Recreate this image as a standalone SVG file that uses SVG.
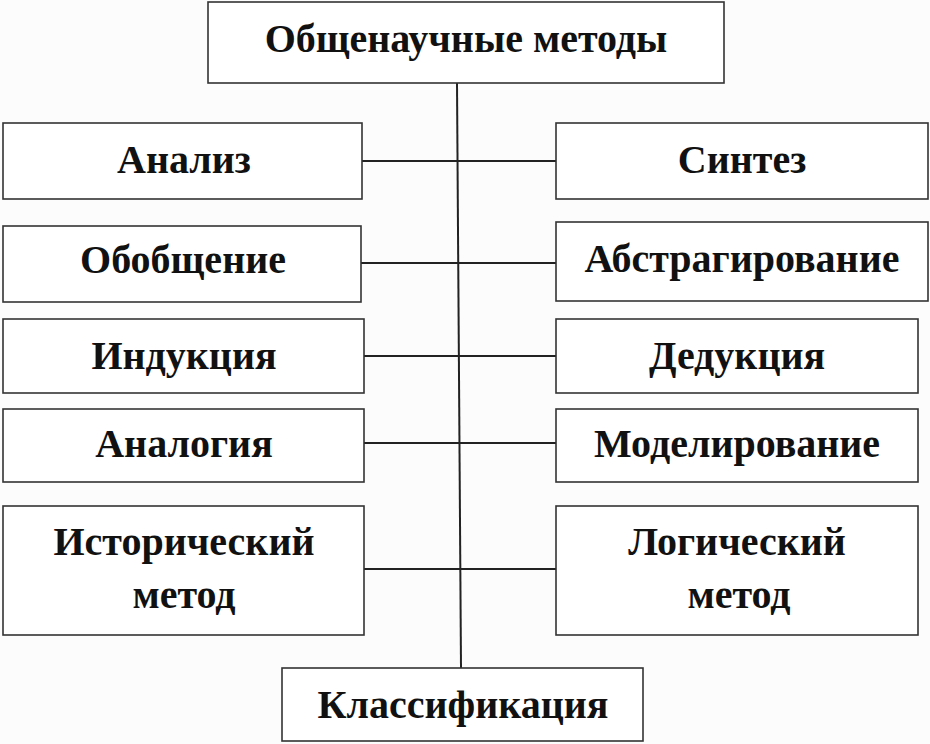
<svg xmlns="http://www.w3.org/2000/svg" width="930" height="744" viewBox="0 0 930 744">
<style>
.box{fill:#ffffff;stroke:#333333;stroke-width:1.6}
.t{font-family:"Liberation Serif","Times New Roman",serif;font-weight:bold;font-size:40px;fill:#111111;text-anchor:middle}
.c{stroke:#222222;stroke-width:2;fill:none}
</style>
<rect width="930" height="744" fill="#fcfcfc"/>
<g id="connectors">
<line class="c" x1="457" y1="83" x2="461" y2="668"/>
<line class="c" x1="362" y1="161" x2="556" y2="161"/>
<line class="c" x1="361" y1="263" x2="556" y2="263"/>
<line class="c" x1="364" y1="356" x2="556" y2="356"/>
<line class="c" x1="364" y1="443" x2="556" y2="443"/>
<line class="c" x1="364" y1="569" x2="556" y2="569"/>
</g>
<g id="n-top"><rect class="box" x="208" y="2" width="516" height="81"/><text class="t" x="466" y="52" font-size="41">Общенаучные методы</text></g>
<g id="n-analiz"><rect class="box" x="3" y="123" width="359" height="76"/><text class="t" x="184" y="173">Анализ</text></g>
<g id="n-sintez"><rect class="box" x="556" y="123" width="372" height="76"/><text class="t" x="742" y="173">Синтез</text></g>
<g id="n-obobsch"><rect class="box" x="3" y="226" width="358" height="76"/><text class="t" x="183" y="273">Обобщение</text></g>
<g id="n-abstr"><rect class="box" x="556" y="222" width="372" height="79"/><text class="t" x="742" y="272">Абстрагирование</text></g>
<g id="n-induk"><rect class="box" x="3" y="319" width="361" height="74"/><text class="t" x="184" y="369">Индукция</text></g>
<g id="n-deduk"><rect class="box" x="556" y="319" width="362" height="74"/><text class="t" x="737" y="369">Дедукция</text></g>
<g id="n-analog"><rect class="box" x="3" y="409" width="361" height="73"/><text class="t" x="184" y="457">Аналогия</text></g>
<g id="n-model"><rect class="box" x="556" y="409" width="362" height="73"/><text class="t" x="737" y="457">Моделирование</text></g>
<g id="n-istor"><rect class="box" x="3" y="506" width="361" height="129"/><text class="t" x="184" y="555">Исторический</text><text class="t" x="184" y="608">метод</text></g>
<g id="n-logich"><rect class="box" x="556" y="506" width="362" height="129"/><text class="t" x="737" y="555">Логический</text><text class="t" x="739" y="608">метод</text></g>
<g id="n-klass"><rect class="box" x="282" y="668" width="361" height="73"/><text class="t" x="463" y="718">Классификация</text></g>
</svg>
